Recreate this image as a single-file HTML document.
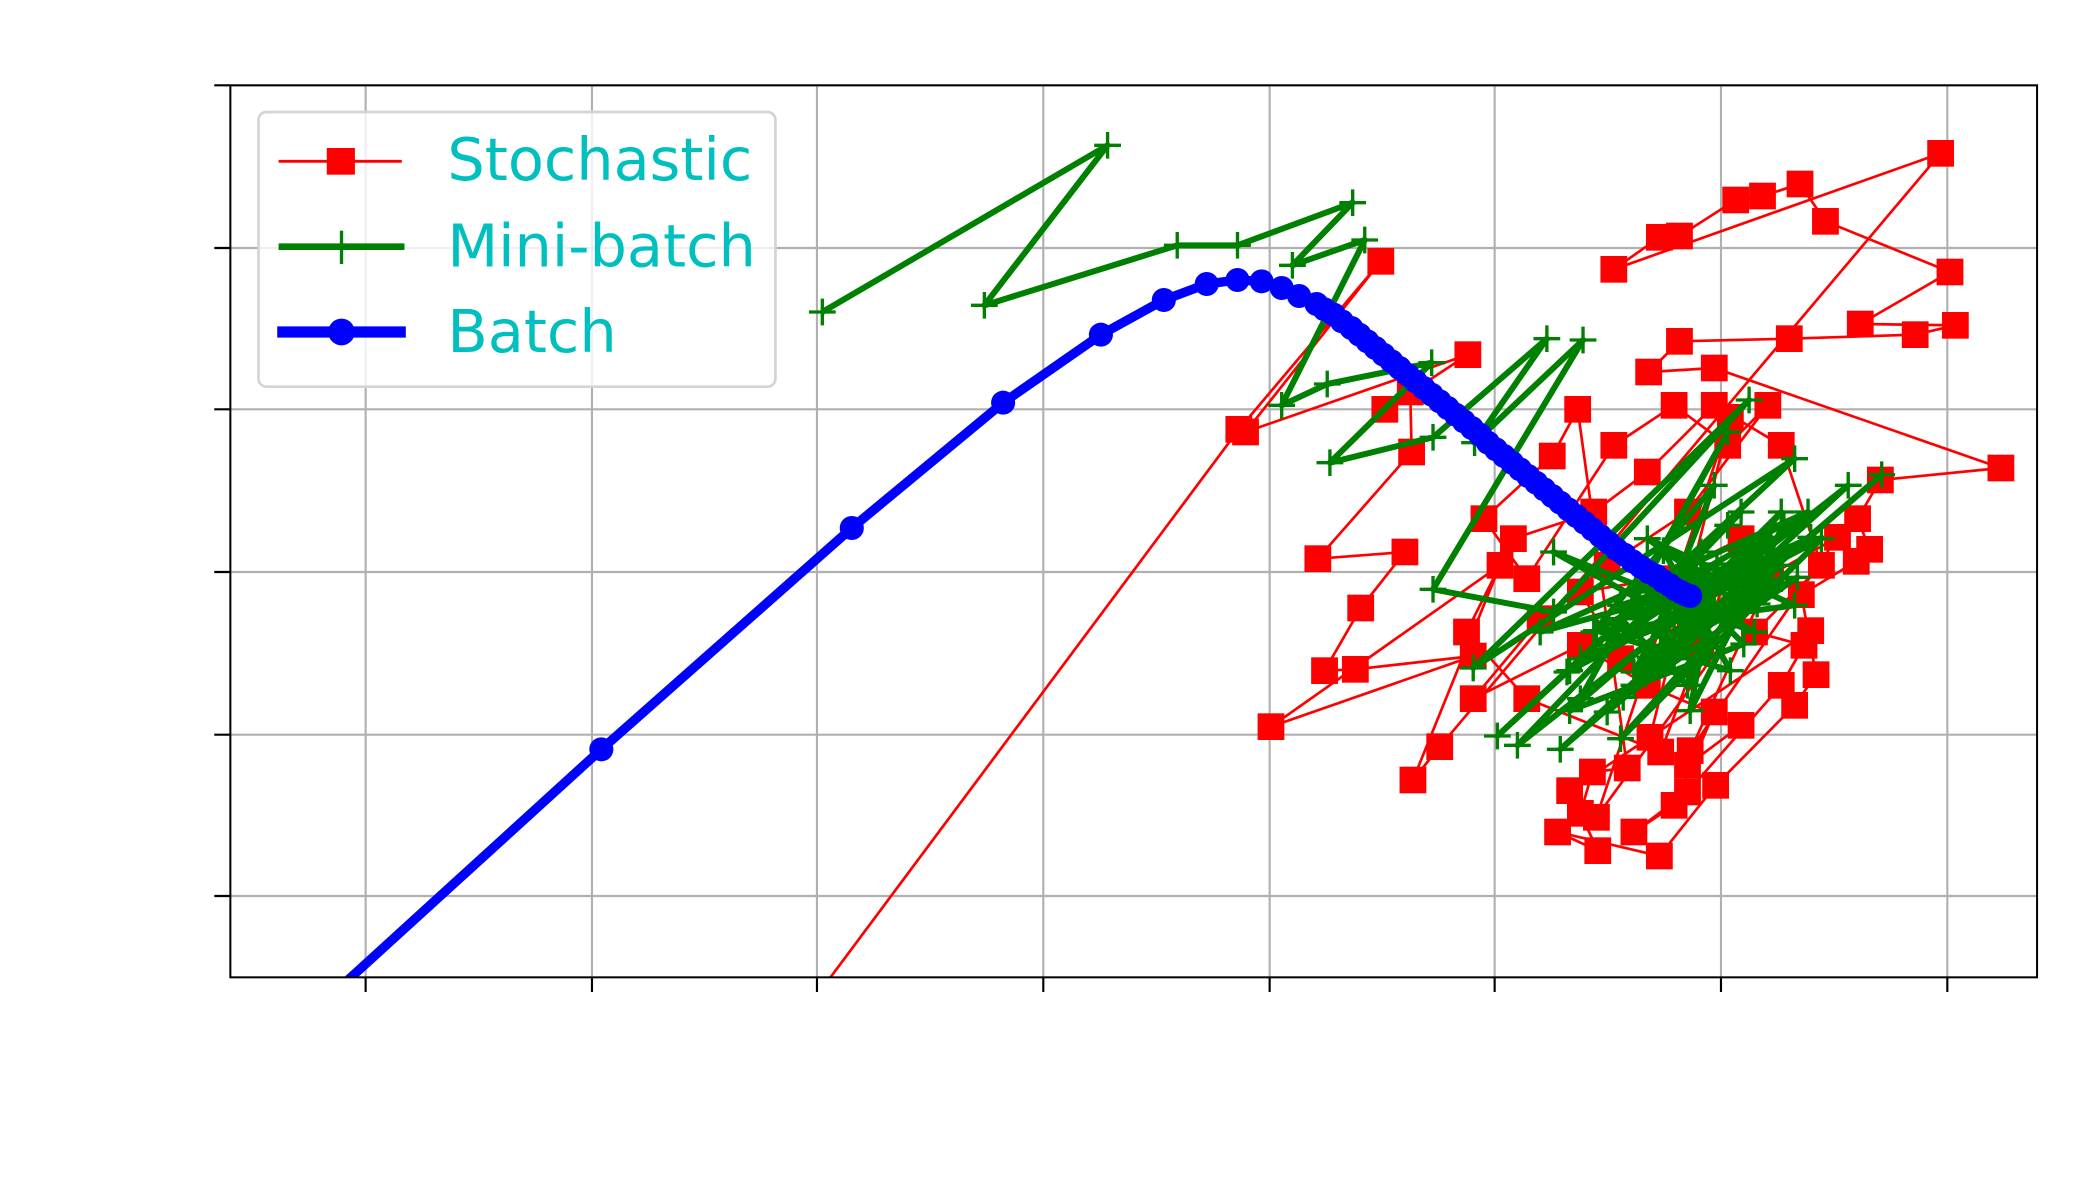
<!DOCTYPE html>
<html><head><meta charset="utf-8"><style>
html,body{margin:0;padding:0;background:#fff;width:2100px;height:1200px;overflow:hidden;}
svg{display:block;}
</style></head><body>
<svg id="chart" width="2100" height="1200" viewBox="0 -4 1568 900" preserveAspectRatio="none" xmlns="http://www.w3.org/2000/svg">
<defs><clipPath id="plotclip"><rect x="172" y="60" width="1349" height="669"/></clipPath></defs>
<g id="grid"></g>
<g id="series" clip-path="url(#plotclip)"></g>
<rect x="172" y="60" width="1349" height="669" fill="none" stroke="#000" stroke-width="1.5"/>
<g id="ticks"></g>
<g>
<rect x="193" y="80" width="386" height="206" rx="6" fill="#fff" fill-opacity="0.8" stroke="#d4d4d4" stroke-width="2"/>
<g>
<line x1="208" y1="117" x2="300" y2="117" stroke="red" stroke-width="2.2"/>
<rect x="244" y="107" width="21" height="20" fill="red"/>
<text x="334" y="131" font-family="DejaVu Sans, Liberation Sans, sans-serif" font-size="44" fill="#00bfbf">Stochastic</text></g>
<g>
<line x1="208" y1="181" x2="302" y2="181" stroke="green" stroke-width="5"/>
<line x1="255" y1="169" x2="255" y2="194" stroke="green" stroke-width="2.5"/>
<text x="334" y="196" font-family="DejaVu Sans, Liberation Sans, sans-serif" font-size="44" fill="#00bfbf">Mini-batch</text></g>
<g>
<line x1="207" y1="245" x2="303" y2="245" stroke="blue" stroke-width="8.5"/>
<circle cx="255" cy="245" r="10" fill="blue"/>
<text x="334" y="260" font-family="DejaVu Sans, Liberation Sans, sans-serif" font-size="44" fill="#00bfbf">Batch</text></g>
</g>
</svg>
<script>
// axis domain: x in [0,1349], y in [0,669]
const xTicks = [101, 270, 438, 607, 776, 944, 1113, 1282];
const yTicks = [61, 182, 304, 426, 547, 669];
const batchX = [-97,277,464,577,650,697,729,752,770,785,798,811,817,824,830,837,843,849,855,861,867,873,879,885,891,897,903,909,915,921,927,933,939,945,951,957,963,969,975,981,987,993,999,1005,1011,1017,1023,1029,1035,1041,1047,1053,1059,1065,1070,1075,1079,1083,1087,1090];
const batchY = [-171,171,337,431,482,508,520,523,522,517,511,505,501,497,492,487,482,477,472,467,462,457,452,447,442,437,432,427,422,417,412,407,401,396,391,386,381,376,371,366,361,356,351,346,341,336,331,326,321,317,312,308,304,301,297,294,291,289,287,286];
const miniX = [442,655,563,707,752,838,793,847,785,819,897,821,898,983,929,1010,898,988,1134,928,1168,946,1128,961,1208,993,1233,1028,1158,978,1178,1008,1118,1028,1148,998,1188,1038,1128,1058,1168,1018,1108,1048,1158,1068,1128,1038,1098,1078,988,1138,1058,1118,1008,1158,1048,1098,1068,1128,1088,1038,1148,1078,1108,1058,1138,1088,1080,1130,1000,1150,1060,1170,1040,1140,1070,1120,1020,1160,1090,1110,1050,1180,1000,1130];
const miniY = [499,624,504,549,549,581,534,553,429,445,461,386,405,479,401,478,291,274,433,232,389,181,349,174,369,171,377,199,309,259,349,209,409,249,329,229,329,179,279,329,279,259,369,219,349,259,309,279,299,269,319,259,289,339,239,299,229,319,249,289,219,269,309,239,279,299,259,289,300,250,200,330,240,300,210,280,320,230,260,340,200,310,270,330,230,300];
const stochX = [388,753,859,758,924,862,881,882,812,877,844,817,840,928,777,948,883,903,1277,1033,1067,1082,1124,1144,1172,1191,1284,1217,1288,1258,1164,1082,1059,1108,1322,1232,1215,1224,1214,1173,1184,1168,1109,1067,991,1021,1008,1017,1043,1006,987,936,968,1033,1078,1118,1148,1088,1028,978,928,1008,1058,1128,1088,1108,1078,1048,1088,1158,1175,1138,1188,1158,1108,1058,1018,958,923,968,1068,1098,1128,1068,1008,1038,1200,1090,1150,1020,1120,1060,1180,1000];
const stochY = [-81,411,537,409,467,426,439,394,314,319,277,230,231,241,188,309,148,173,618,531,555,556,583,586,595,567,529,490,489,482,479,477,454,457,382,373,344,321,312,287,227,204,144,91,109,95,123,154,157,426,391,344,299,399,429,399,429,349,309,269,209,249,219,189,159,199,129,109,139,219,249,259,309,399,429,379,349,329,259,209,169,249,329,299,289,239,330,170,300,120,420,180,260,140];

const X0=172, Y0=729, SX=1, SY=1;
function xs(v){return X0 + v*SX;}
function ys(v){return Y0 - v*SY;}
const NS='http://www.w3.org/2000/svg';
function mk(tag, attrs){const e=document.createElementNS(NS,tag);for(const k in attrs)e.setAttribute(k,attrs[k]);return e;}
const grid=document.getElementById('grid'), ticks=document.getElementById('ticks'), series=document.getElementById('series');
xTicks.forEach(t=>{
  const g=mk('line',{x1:xs(t),x2:xs(t),y1:60,y2:729,stroke:'#b0b0b0','stroke-width':1.6});
  
  
  grid.appendChild(g);
  const tk=mk('line',{x1:xs(t),x2:xs(t),y1:729,y2:740,stroke:'#000','stroke-width':1.6});
  
  
  ticks.appendChild(tk);
});
yTicks.forEach(t=>{
  const g=mk('line',{x1:172,x2:1521,y1:ys(t),y2:ys(t),stroke:'#b0b0b0','stroke-width':1.6});
  
  
  grid.appendChild(g);
  const tk=mk('line',{x1:160,x2:172,y1:ys(t),y2:ys(t),stroke:'#000','stroke-width':1.6});
  
  
  ticks.appendChild(tk);
});
function pts(xa,ya){return xa.map((x,i)=>xs(x)+','+ys(ya[i])).join(' ');}
// stochastic
const sg=mk('g',{});


series.appendChild(sg);
const sl=mk('polyline',{points:pts(stochX,stochY),fill:'none',stroke:'red','stroke-width':2});


sg.appendChild(sl);
stochX.forEach((x,i)=>{
  const r=mk('rect',{x:xs(x)-10,y:ys(stochY[i])-10,width:20,height:20,fill:'red'});
  
  
  sg.appendChild(r);
});
// mini-batch
const mg=mk('g',{});


series.appendChild(mg);
const ml=mk('polyline',{points:pts(miniX,miniY),fill:'none',stroke:'green','stroke-width':4.5,'stroke-linejoin':'round'});


mg.appendChild(ml);
miniX.forEach((x,i)=>{
  const cx=xs(x), cy=ys(miniY[i]);
  const p=mk('path',{d:`M${cx-10},${cy}H${cx+10}M${cx},${cy-10}V${cy+10}`,stroke:'green','stroke-width':2.5});
  
  
  mg.appendChild(p);
});
// batch
const bg=mk('g',{});


series.appendChild(bg);
const bl=mk('polyline',{points:pts(batchX,batchY),fill:'none',stroke:'blue','stroke-width':7,'stroke-linejoin':'round'});


bg.appendChild(bl);
batchX.forEach((x,i)=>{
  const c=mk('circle',{cx:xs(x),cy:ys(batchY[i]),r:9,fill:'blue'});
  
  
  bg.appendChild(c);
});
</script>
</body></html>
